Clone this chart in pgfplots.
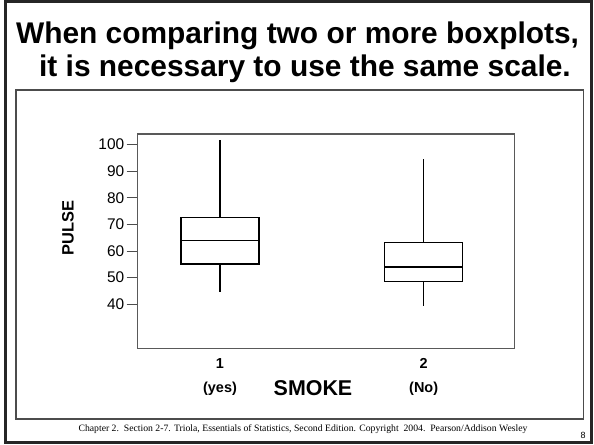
\documentclass[border=0pt]{standalone}
\usepackage{fontspec}
\setmainfont{Liberation Sans}
\newfontfamily\serifft{Liberation Serif}
\usepackage{pgfplots}
\pgfplotsset{compat=1.18}
\usepgfplotslibrary{statistics}
\begin{document}
\begin{tikzpicture}
\begin{scope}[x=1bp,y=1bp]
\path[use as bounding box] (0,0) rectangle (594,445);
\draw[line width=3bp, black!85] (5,2.5) rectangle (591.5,443.5);
\draw[line width=1.5bp, black!70] (16,26) rectangle (583.7,355);
\node[anchor=base, font=\bfseries\fontsize{30}{36}\selectfont, inner sep=0pt] at (297.5,401.4) {When comparing two or more boxplots,};
\node[anchor=base, font=\bfseries\fontsize{30}{36}\selectfont, inner sep=0pt] at (305,368.5) {it is necessary to use the same scale.};
\node[anchor=base, font=\serifft\fontsize{9.75}{11}\selectfont, inner sep=0pt] at (303,13) {Chapter 2.\ \ Section 2-7. Triola, Essentials of Statistics, Second Edition. Copyright\ \ 2004.\ \ Pearson/Addison Wesley};
\node[anchor=base, font=\fontsize{9}{10}\selectfont, inner sep=0pt] at (583,6.7) {8};
\end{scope}
\begin{axis}[
  at={(137.7bp,96.7bp)}, anchor=south west,
  scale only axis, width=377bp, height=214.3bp,
  boxplot/draw direction=y,
  xmin=0.596, xmax=2.447, ymin=23.46, ymax=104,
  axis line style={black!65, line width=1.2bp},
  ytick={40,50,60,70,80,90,100},
  xtick={1,2}, xticklabels={{1\\(yes)},{2\\(No)}},
  tick align=outside, ytick pos=left, xtick pos=bottom,
  major tick length=11bp,
  ytick style={black!70, line width=1bp},
  xtick style={draw=none},
  /pgf/number format/assume math mode=true,
  yticklabel style={font=\fontsize{15.5}{18}\selectfont, xshift=1bp},
  xticklabel style={font=\bfseries\fontsize{14.5}{23.5}\selectfont, align=center, anchor=north, yshift=4bp},
  xlabel={SMOKE},
  xlabel style={at={(axis description cs:0.465,-0.185)}, anchor=center, font=\bfseries\fontsize{21.5}{25}\selectfont},
  ylabel={PULSE},
  ylabel style={at={(axis description cs:-0.185,0.561)}, anchor=center, font=\bfseries\fontsize{16.5}{19}\selectfont},
]
\addplot[black, line width=1.4bp, boxplot prepared={draw position=1, lower whisker=44.5, lower quartile=55.2, median=63.9, upper quartile=72.6, upper whisker=101.8, box extend=0.383, whisker extend=0}] coordinates {};
\addplot[black, line width=1.4bp, boxplot prepared={draw position=2, lower whisker=39.5, lower quartile=48.5, median=54, upper quartile=63.2, upper whisker=94.6, box extend=0.383, whisker extend=0}] coordinates {};
\end{axis}
\end{tikzpicture}
\end{document}
